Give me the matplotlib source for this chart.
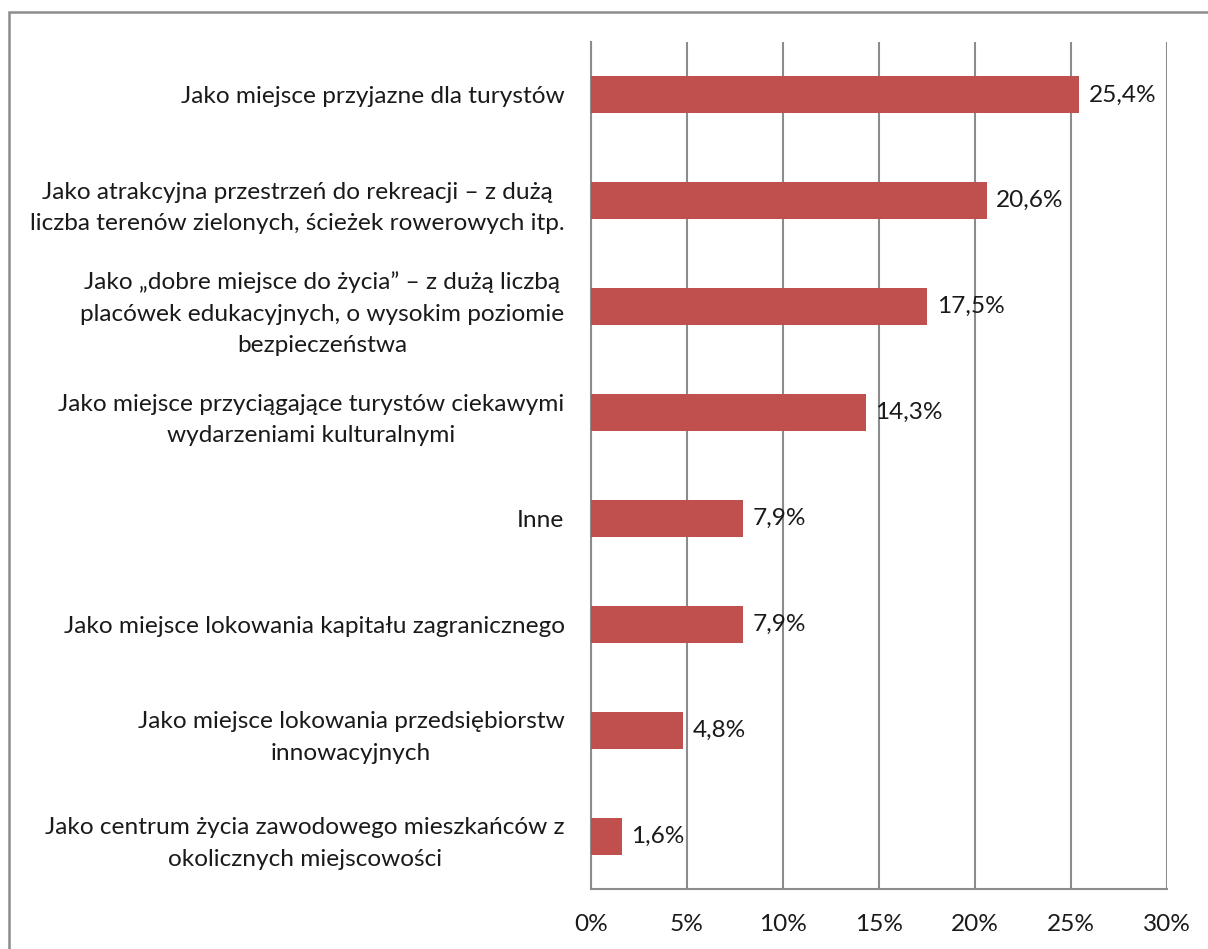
import matplotlib.pyplot as plt
from matplotlib.patches import Rectangle
from matplotlib.ticker import FuncFormatter

plt.rcParams['font.family'] = ['Lato', 'DejaVu Sans']

# kategorie od góry do dołu
kategorie = [
    "Jako miejsce przyjazne dla turystów",
    "Jako atrakcyjna przestrzeń do rekreacji – z dużą\nliczba terenów zielonych, ścieżek rowerowych itp.",
    "Jako „dobre miejsce do życia” – z dużą liczbą\nplacówek edukacyjnych, o wysokim poziomie\nbezpieczeństwa",
    "Jako miejsce przyciągające turystów ciekawymi\nwydarzeniami kulturalnymi",
    "Inne",
    "Jako miejsce lokowania kapitału zagranicznego",
    "Jako miejsce lokowania przedsiębiorstw\ninnowacyjnych",
    "Jako centrum życia zawodowego mieszkańców z\nokolicznych miejscowości",
]
wartosci = [25.4, 20.6, 17.5, 14.3, 7.9, 7.9, 4.8, 1.6]
ticki = [0, 5, 10, 15, 20, 25, 30]

kolor = "#C0504D"
szary = "#8C8C8C"
rozmiar = 17.6

fig = plt.figure(figsize=(12.08, 9.49), dpi=100)
ax = fig.add_axes([591 / 1208, 1 - 889 / 949, (1167 - 591) / 1208, (889 - 42) / 949])

# ramka wykresu
fig.patches.append(Rectangle((9 / 1208, -0.05), 1.1, 1 - 12 / 949 + 0.05,
                             transform=fig.transFigure, fill=False,
                             edgecolor=szary, linewidth=1.8))

n = len(kategorie)
pozycje = list(range(n))[::-1]
ax.barh(pozycje, wartosci, height=0.35, color=kolor, zorder=3)

for y, v in zip(pozycje, wartosci):
    ax.annotate(f"{v:.1f}%".replace(".", ","), (v, y), xytext=(7, 0),
                textcoords="offset points", va="center", ha="left",
                fontsize=rozmiar, color="#1a1a1a")

ax.set_xlim(0, 30)
ax.set_ylim(-0.5, n - 0.5)
ax.set_xticks(ticki)
ax.xaxis.set_major_formatter(FuncFormatter(lambda x, p: f"{x:.0f}%"))
ax.set_yticks(pozycje)
ax.set_yticklabels(kategorie, multialignment="center", linespacing=1.62)
ax.tick_params(axis="both", length=0, labelsize=rozmiar, labelcolor="#1a1a1a")
ax.tick_params(axis="y", pad=19)
ax.tick_params(axis="x", pad=18)

ax.grid(axis="x", color=szary, linewidth=1.5, zorder=0)
for s in ["top", "right"]:
    ax.spines[s].set_visible(False)
for s in ["left", "bottom"]:
    ax.spines[s].set_color(szary)
    ax.spines[s].set_linewidth(1.5)

fig.savefig("out.png", dpi=100)
